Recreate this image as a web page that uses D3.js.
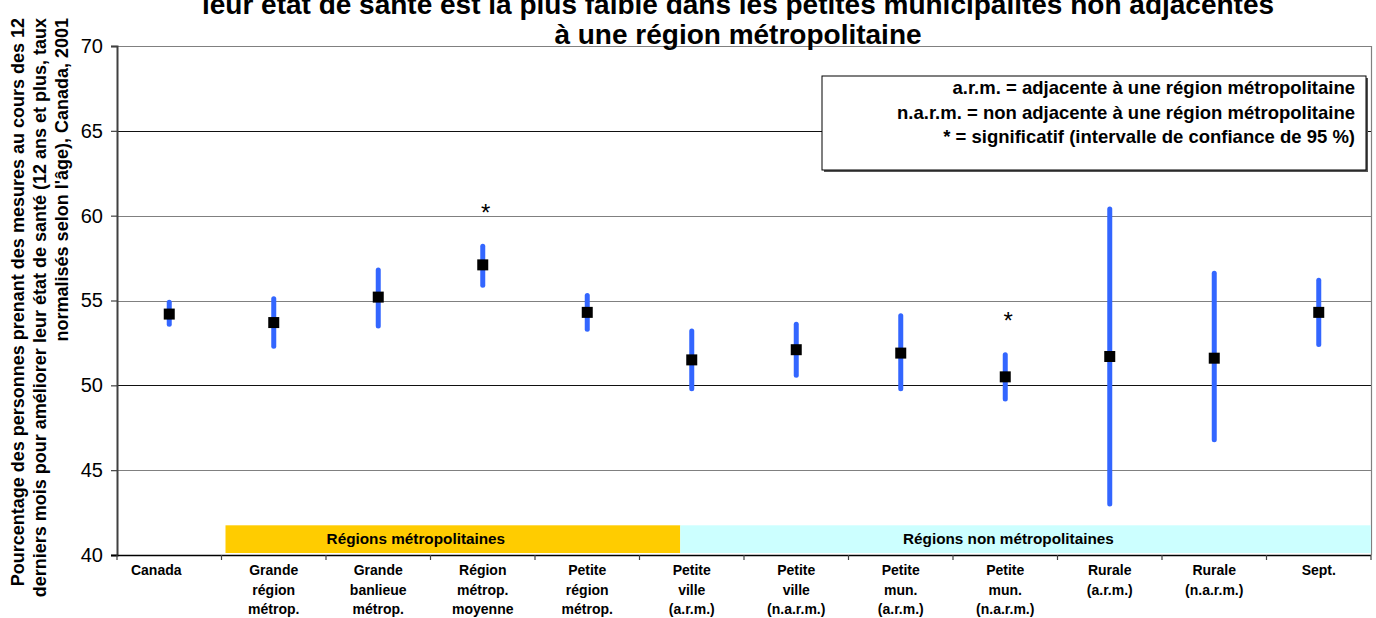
<!DOCTYPE html>
<html>
<head>
<meta charset="utf-8">
<script src="https://cdn.jsdelivr.net/npm/d3@7"></script>
<style>
  html, body { margin: 0; padding: 0; background: #fff; }
  svg { display: block; font-family: "Liberation Sans", Arial, sans-serif; }
</style>
</head>
<body>
<svg id="chart" width="1376" height="618"></svg>
<script>
// ---------------- data ----------------
const categories = [
  "Canada",
  "Grande région métrop.",
  "Grande banlieue métrop.",
  "Région métrop. moyenne",
  "Petite région métrop.",
  "Petite ville (a.r.m.)",
  "Petite ville (n.a.r.m.)",
  "Petite mun. (a.r.m.)",
  "Petite mun. (n.a.r.m.)",
  "Rurale (a.r.m.)",
  "Rurale (n.a.r.m.)",
  "Sept."
];
const categoryLabelLines = [
  ["Canada"],
  ["Grande", "région", "métrop."],
  ["Grande", "banlieue", "métrop."],
  ["Région", "métrop.", "moyenne"],
  ["Petite", "région", "métrop."],
  ["Petite", "ville", "(a.r.m.)"],
  ["Petite", "ville", "(n.a.r.m.)"],
  ["Petite", "mun.", "(a.r.m.)"],
  ["Petite", "mun.", "(n.a.r.m.)"],
  ["Rurale", "(a.r.m.)"],
  ["Rurale", "(n.a.r.m.)"],
  ["Sept."]
];
const estimates = [54.2, 53.7, 55.2, 57.1, 54.3, 51.5, 52.1, 51.9, 50.5, 51.7, 51.6, 54.3];
const lowerCI   = [53.6, 52.3, 53.5, 55.9, 53.3, 49.8, 50.6, 49.8, 49.2, 43.0, 46.8, 52.4];
const upperCI   = [54.9, 55.1, 56.8, 58.2, 55.3, 53.2, 53.6, 54.1, 51.8, 60.4, 56.6, 56.2];
const significant = [false, false, false, true, false, false, false, false, true, false, false, false];
const yTicks = [40, 45, 50, 55, 60, 65, 70];
const groupLabels = ["Régions métropolitaines", "Régions non métropolitaines"];
const legendLines = [
  "a.r.m. = adjacente à une région métropolitaine",
  "n.a.r.m. = non adjacente à une région métropolitaine",
  "* = significatif (intervalle de confiance de 95 %)"
];
const titleLines = [
  "leur état de santé est la plus faible dans les petites municipalités non adjacentes",
  "à une région métropolitaine"
];
const yLabelLines = [
  "Pourcentage des personnes prenant des mesures au cours des 12",
  "derniers mois pour améliorer leur état de santé (12 ans et plus, taux",
  "normalisés selon l'âge), Canada, 2001"
];

// ---------------- layout ----------------
const svg = d3.select("#chart");
const plot = { left: 117, right: 1371, top: 46, bottom: 555 };

const x = d3.scaleBand().domain(categories).range([plot.left, plot.right]).padding(0);
const y = d3.scaleLinear().domain([40, 70]).range([plot.bottom, plot.top]);
const bw = x.bandwidth();

// gridlines
const gridDark = new Set([50, 65]);
svg.append("g").selectAll("line").data(yTicks.filter(t => t > 40)).join("line")
  .attr("x1", plot.left).attr("x2", plot.right)
  .attr("y1", d => Math.round(y(d)) + 0.5).attr("y2", d => Math.round(y(d)) + 0.5)
  .attr("stroke", d => gridDark.has(d) ? "#111" : "#808080")
  .attr("stroke-width", 1.2);

// right border of plot
svg.append("line")
  .attr("x1", plot.right + 0.5).attr("x2", plot.right + 0.5)
  .attr("y1", plot.top).attr("y2", plot.bottom)
  .attr("stroke", "#808080").attr("stroke-width", 1.2);

// group bands (metro / non-metro)
const bandTop = y(41.75);
const metroStart = x(categories[1]) + 4;
const metroEnd = x(categories[5]) + bw * 0.39;
const nonMetroEnd = plot.right;
svg.append("rect").attr("x", metroStart).attr("y", bandTop)
  .attr("width", metroEnd - metroStart).attr("height", plot.bottom - 2 - bandTop)
  .attr("fill", "#FFCC00");
svg.append("rect").attr("x", metroEnd).attr("y", bandTop)
  .attr("width", nonMetroEnd - metroEnd).attr("height", plot.bottom - 2 - bandTop)
  .attr("fill", "#CCFFFF");
svg.append("text").attr("x", x(categories[3]) - 0.14 * bw).attr("y", bandTop + 19)
  .attr("text-anchor", "middle").attr("font-weight", "bold").attr("font-size", 15.3)
  .text(groupLabels[0]);
svg.append("text").attr("x", x(categories[8]) + 0.53 * bw).attr("y", bandTop + 19)
  .attr("text-anchor", "middle").attr("font-weight", "bold").attr("font-size", 15.3)
  .text(groupLabels[1]);

// y axis
const yAxis = d3.axisLeft(y).tickValues(yTicks).tickSize(6).tickPadding(8).tickFormat(d3.format("d"));
const gy = svg.append("g").attr("transform", `translate(${plot.left},0)`).call(yAxis);
gy.select(".domain").attr("stroke", "#404040").attr("stroke-width", 2);
gy.selectAll(".tick line").attr("stroke", "#404040").attr("stroke-width", 1.2);
gy.selectAll(".tick text").attr("font-size", 20).attr("fill", "#000")
  .attr("font-family", "Liberation Sans, Arial, sans-serif");

// x axis baseline and ticks
svg.append("line").attr("x1", plot.left - 6).attr("x2", plot.right)
  .attr("y1", plot.bottom + 0.5).attr("y2", plot.bottom + 0.5)
  .attr("stroke", "#000").attr("stroke-width", 1.5);
const boundaries = categories.map(c => x(c)).concat([plot.right]);
svg.append("g").selectAll("line").data(boundaries).join("line")
  .attr("x1", d => d).attr("x2", d => d)
  .attr("y1", plot.bottom).attr("y2", plot.bottom + 5)
  .attr("stroke", "#404040").attr("stroke-width", 1.2);

// x labels
const xl = svg.append("g").attr("font-weight", "bold").attr("font-size", 14).attr("text-anchor", "middle");
categories.forEach((c, i) => {
  const cx = x(c) + bw / 2 + (i === 0 ? -13 : 0);
  const t = xl.append("text").attr("x", cx).attr("y", 575);
  categoryLabelLines[i].forEach((ln, j) => {
    t.append("tspan").attr("x", cx).attr("dy", j === 0 ? 0 : 19.5).text(ln);
  });
});

// error bars
svg.append("g").selectAll("line").data(categories).join("line")
  .attr("x1", d => x(d) + bw / 2).attr("x2", d => x(d) + bw / 2)
  .attr("y1", (d, i) => y(upperCI[i])).attr("y2", (d, i) => y(lowerCI[i]))
  .attr("stroke", "#3366FF").attr("stroke-width", 5).attr("stroke-linecap", "round");

// markers
const ms = 11;
svg.append("g").selectAll("rect").data(categories).join("rect")
  .attr("x", d => x(d) + bw / 2 - ms / 2)
  .attr("y", (d, i) => y(estimates[i]) - ms / 2)
  .attr("width", ms).attr("height", ms).attr("fill", "#000");

// significance asterisks
svg.append("g").selectAll("text").data(categories.filter((c, i) => significant[i])).join("text")
  .attr("x", d => x(d) + bw / 2 + 3)
  .attr("y", d => y(upperCI[categories.indexOf(d)]) - 25.5)
  .attr("text-anchor", "middle").attr("font-size", 24)
  .text("*");

// legend box
const lg = { x: 822, y: 76, w: 544, h: 94 };
svg.append("rect").attr("x", lg.x + 2).attr("y", lg.y + 2).attr("width", lg.w).attr("height", lg.h).attr("fill", "#555");
svg.append("rect").attr("x", lg.x).attr("y", lg.y).attr("width", lg.w).attr("height", lg.h)
  .attr("fill", "#fff").attr("stroke", "#000").attr("stroke-width", 1);
svg.append("g").selectAll("text").data(legendLines).join("text")
  .attr("x", lg.x + lg.w - 11).attr("y", (d, i) => lg.y + 18 + i * 24.5)
  .attr("text-anchor", "end").attr("font-weight", "bold").attr("font-size", 18.5)
  .text(d => d);

// title
svg.append("g").selectAll("text").data(titleLines).join("text")
  .attr("x", 738).attr("y", (d, i) => 14 + i * 29.5)
  .attr("text-anchor", "middle").attr("font-weight", "bold").attr("font-size", 28)
  .text(d => d);

// y axis title (right-aligned along the rotated axis)
svg.append("g").selectAll("text").data(yLabelLines).join("text")
  .attr("transform", (d, i) => `translate(${24 + i * 22},18) rotate(-90)`)
  .attr("text-anchor", "end").attr("font-weight", "bold").attr("font-size", 18)
  .text(d => d);
</script>
</body>
</html>
